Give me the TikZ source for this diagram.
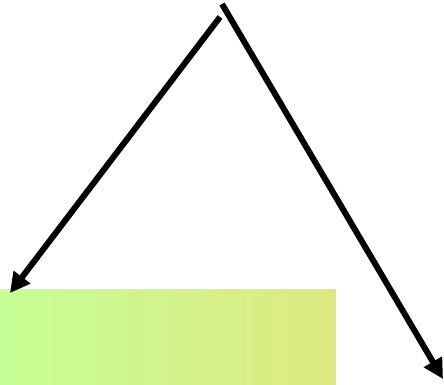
\documentclass[tikz,border=0pt]{standalone}
\usepackage{xcolor}
\usepackage{tikz}
\usetikzlibrary{arrows.meta,calc}
\definecolor{boxleft}{RGB}{198,255,150}
\definecolor{boxright}{RGB}{222,232,128}
\tikzset{
  branch/.style = {line width=6pt, -{Triangle[length=20pt,width=20pt]}}
}

\begin{document}
\begin{tikzpicture}[x=1pt,y=-1pt]
  \useasboundingbox (0,0) rectangle (444,384);

  % shaded box at the bottom
  \shade[left color=boxleft, right color=boxright] (0,289) rectangle (336,384);

  \coordinate (topA) at (222,4);
  \coordinate (topB) at (220,17);
  \coordinate (endA) at (443,379);
  \coordinate (endB) at (10,293);

  \draw[branch] (topA) -- (endA);
  \draw[branch] (topB) -- (endB);

\end{tikzpicture}
\end{document}
